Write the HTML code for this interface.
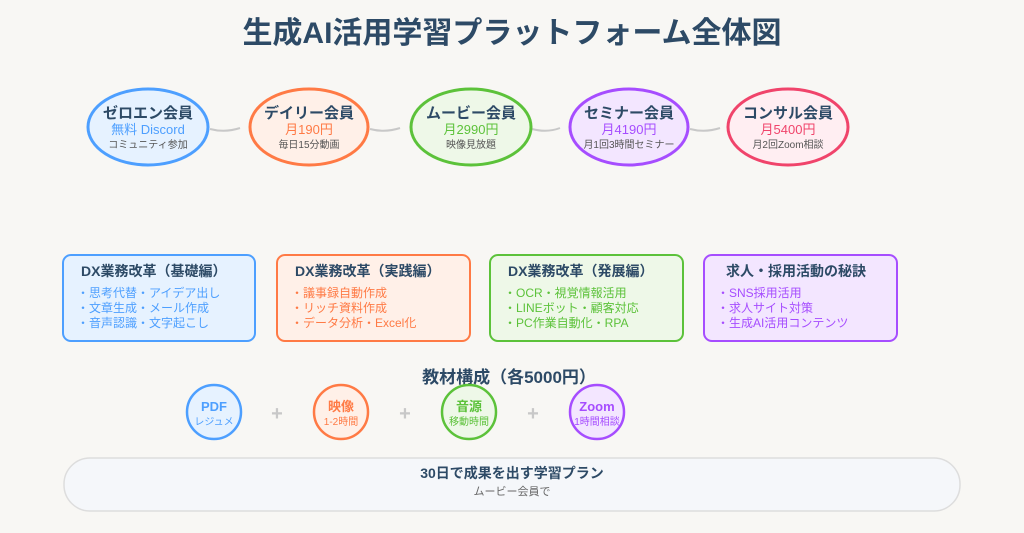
<!DOCTYPE html>
<html><head><meta charset="utf-8"><style>
html,body{margin:0;padding:0;background:#f8f7f4;}
svg{display:block;font-family:"Liberation Sans","Noto Sans CJK JP",sans-serif;}
</style></head><body>
<svg width="1024" height="533" viewBox="0 0 1024 533" xmlns="http://www.w3.org/2000/svg">
<rect width="1024" height="533" fill="#f8f7f4"/>
<text x="512" y="43" text-anchor="middle" font-size="30" font-weight="bold" fill="#2d4a66">生成AI活用学習プラットフォーム全体図</text>

<g stroke="#c8c8c8" stroke-width="2" fill="none">
<path d="M210,129 Q225,133 240,128"/>
<path d="M370,129 Q385,133 400,128"/>
<path d="M532,129 Q547,133 560,128"/>
<path d="M690,129 Q705,133 720,128"/>
</g>

<g stroke-width="3">
<ellipse cx="148" cy="127" rx="60" ry="38" fill="#e6f2ff" stroke="#4d9fff"/>
<ellipse cx="309" cy="127" rx="59" ry="38" fill="#fff0e8" stroke="#ff7a45"/>
<ellipse cx="471" cy="127" rx="60" ry="38" fill="#eef8e8" stroke="#5cc23a"/>
<ellipse cx="629" cy="127" rx="59" ry="38" fill="#f3e6ff" stroke="#a64dff"/>
<ellipse cx="788" cy="127" rx="60" ry="38" fill="#ffeef2" stroke="#f0446b"/>
</g>
<g text-anchor="middle">
<g font-size="15" font-weight="bold" fill="#2d4a66">
<text x="148" y="118">ゼロエン会員</text>
<text x="309" y="118">デイリー会員</text>
<text x="471" y="118">ムービー会員</text>
<text x="629" y="118">セミナー会員</text>
<text x="788" y="118">コンサル会員</text>
</g>
<g font-size="13">
<text x="148" y="134" fill="#4d9fff">無料 Discord</text>
<text x="309" y="134" fill="#ff7a45">月190円</text>
<text x="471" y="134" fill="#5cc23a">月2990円</text>
<text x="629" y="134" fill="#a64dff">月4190円</text>
<text x="788" y="134" fill="#f0446b">月5400円</text>
</g>
<g font-size="10" fill="#555">
<text x="148" y="148">コミュニティ参加</text>
<text x="309" y="148">毎日15分動画</text>
<text x="471" y="148">映像見放題</text>
<text x="629" y="148">月1回3時間セミナー</text>
<text x="788" y="148">月2回Zoom相談</text>
</g>
</g>

<g stroke-width="2">
<rect x="63" y="255" width="192" height="86" rx="8" fill="#e6f2ff" stroke="#4d9fff"/>
<rect x="277" y="255" width="193" height="86" rx="8" fill="#fff0e8" stroke="#ff7a45"/>
<rect x="490" y="255" width="193" height="86" rx="8" fill="#eef8e8" stroke="#5cc23a"/>
<rect x="704" y="255" width="193" height="86" rx="8" fill="#f3e6ff" stroke="#a64dff"/>
</g>
<g font-size="14" font-weight="bold" fill="#2d4a66">
<text x="81" y="276">DX業務改革（基礎編）</text>
<text x="295" y="276">DX業務改革（実践編）</text>
<text x="508" y="276">DX業務改革（発展編）</text>
<text x="726" y="276">求人・採用活動の秘訣</text>
</g>
<g font-size="12">
<g fill="#4d9fff"><text x="77" y="297">・思考代替・アイデア出し</text><text x="77" y="312">・文章生成・メール作成</text><text x="77" y="327">・音声認識・文字起こし</text></g>
<g fill="#ff7a45"><text x="291" y="297">・議事録自動作成</text><text x="291" y="312">・リッチ資料作成</text><text x="291" y="327">・データ分析・Excel化</text></g>
<g fill="#5cc23a"><text x="504" y="297">・OCR・視覚情報活用</text><text x="504" y="312">・LINEボット・顧客対応</text><text x="504" y="327">・PC作業自動化・RPA</text></g>
<g fill="#a64dff"><text x="717" y="297">・SNS採用活用</text><text x="717" y="312">・求人サイト対策</text><text x="717" y="327">・生成AI活用コンテンツ</text></g>
</g>

<text x="509" y="383" text-anchor="middle" font-size="17" font-weight="bold" fill="#2d4a66">教材構成（各5000円）</text>
<g stroke-width="2.5">
<circle cx="214" cy="412" r="27" fill="#e6f2ff" stroke="#4d9fff"/>
<circle cx="341" cy="412" r="27" fill="#fff0e8" stroke="#ff7a45"/>
<circle cx="469" cy="412" r="27" fill="#eef8e8" stroke="#5cc23a"/>
<circle cx="597" cy="412" r="27" fill="#f3e6ff" stroke="#a64dff"/>
</g>
<g text-anchor="middle">
<g font-size="13" font-weight="bold">
<text x="214" y="411" fill="#4d9fff">PDF</text>
<text x="341" y="411" fill="#ff7a45">映像</text>
<text x="469" y="411" fill="#5cc23a">音源</text>
<text x="597" y="411" fill="#a64dff">Zoom</text>
</g>
<g font-size="10">
<text x="214" y="425" fill="#4d9fff">レジュメ</text>
<text x="341" y="425" fill="#ff7a45">1-2時間</text>
<text x="469" y="425" fill="#5cc23a">移動時間</text>
<text x="597" y="425" fill="#a64dff">1時間相談</text>
</g>
<g font-size="20" font-weight="bold" fill="#c8c8c8">
<text x="277" y="420">+</text><text x="405" y="420">+</text><text x="533" y="420">+</text>
</g>
</g>

<rect x="64" y="458" width="896" height="53" rx="26" fill="#f5f7fa" stroke="#dddddd" stroke-width="1.5"/>
<text x="512" y="478" text-anchor="middle" font-size="14" font-weight="bold" fill="#2d4a66">30日で成果を出す学習プラン</text>
<text x="512" y="495" text-anchor="middle" font-size="11" fill="#666">ムービー会員で</text>
</svg>
</body></html>
